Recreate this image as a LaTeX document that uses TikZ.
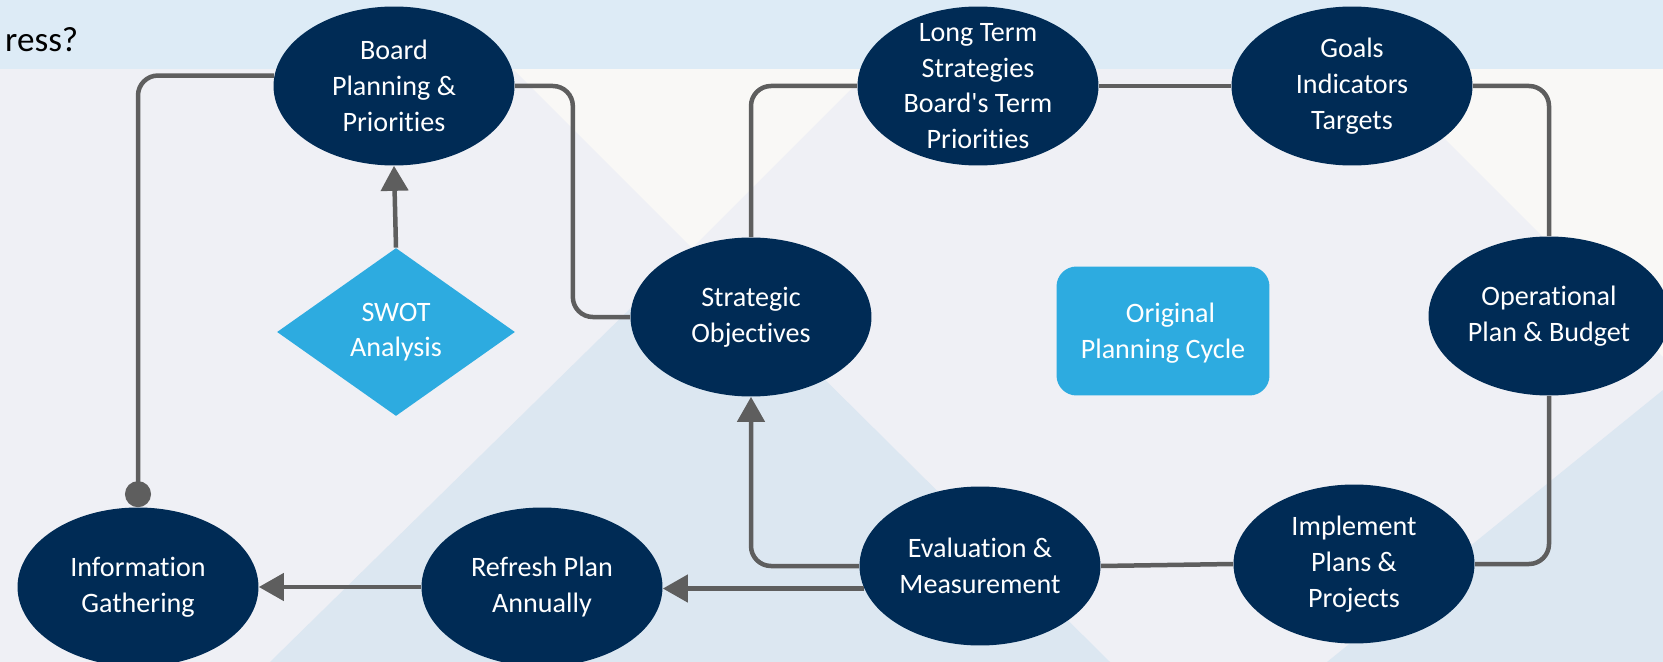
\documentclass[tikz,border=0pt]{standalone}
\usepackage{fontspec}
\setmainfont{Carlito}[Ligatures={NoCommon,NoRare}]
\usepackage{tikz}
\usetikzlibrary{shapes.geometric, arrows.meta}
\usetikzlibrary{backgrounds}
\definecolor{navy}{RGB}{0,43,85}
\definecolor{sky}{RGB}{45,171,224}
\definecolor{wire}{RGB}{94,94,94}
\definecolor{band}{RGB}{221,235,246}
\definecolor{slate}{RGB}{239,240,245}
\definecolor{chalk}{RGB}{249,248,246}
\definecolor{haze}{RGB}{220,231,241}
\newcommand{\stagefont}{\fontsize{16pt}{20.3pt}\selectfont}
\tikzstyle{stage} = [ellipse, fill=navy, text=white, minimum width=4.82cm, minimum height=3.18cm, inner xsep=0pt, inner ysep=-0.4cm, align=center, font=\stagefont]
\tikzstyle{swot} = [diamond, fill=sky, text=white, minimum width=4.76cm, minimum height=3.36cm, inner sep=0pt, align=center, font=\stagefont]
\tikzstyle{plate} = [rectangle, rounded corners=0.4cm, fill=sky, text=white, minimum width=4.26cm, minimum height=2.58cm, align=center, font=\stagefont]
\tikzstyle{link} = [draw=wire, line width=0.09cm, rounded corners=0.4cm]
\tikzstyle{arrow} = [link, -{Triangle[length=0.5cm,width=0.54cm]}]

\begin{document}
\begin{tikzpicture}[x=0.02cm, y=-0.02cm]
  \useasboundingbox (0,0) rectangle (1663,662);
  \begin{pgfonlayer}{background}
    \fill[slate] (0,0) rectangle (1663,662);
    \fill[chalk] (513,69) -- (871,69) -- (692,248) -- cycle;
    \fill[haze] (692,248) -- (1110,662) -- (270,662) -- cycle;
    \fill[chalk] (1375,69) -- (1663,69) -- (1663,357) -- cycle;
    \fill[haze] (1663,390) -- (1663,662) -- (1327,662) -- cycle;
    \fill[band] (0,0) rectangle (1663,69);
  \end{pgfonlayer}
  \node[anchor=base west, font=\fontsize{20pt}{24pt}\selectfont] (title) at (-1,52) {ress?};

  \node[stage] (board) at (394,86) {Board\\Planning \&\\Priorities};
  \node[stage] (long) at (978,86) {Long Term\\Strategies\\Board\textquotesingle s Term\\Priorities};
  \node[stage] (goals) at (1352,86) {Goals\\Indicators\\Targets};
  \node[stage] (strat) at (751,317) {Strategic\\Objectives};
  \node[stage] (oper) at (1549,316) {Operational\\Plan \& Budget};
  \node[stage] (info) at (138,587) {Information\\Gathering};
  \node[stage] (refresh) at (542,587) {Refresh Plan\\Annually};
  \node[stage] (eval) at (980,566) {Evaluation \&\\Measurement};
  \node[stage] (impl) at (1354,564) {Implement\\Plans \&\\Projects};
  \node[swot] (swot) at (396,332) {SWOT\\Analysis};
  \node[plate, text depth=-0.1cm] (orig) at (1163,331) {\hspace{0.3cm}Original\\Planning Cycle};

  \draw[link, {Circle[length=0.52cm]}-] (info.north) |- (board.175);
  \draw[link] (board.east) -- ++(58,0) |- (strat.west);
  \draw[link] (strat.north) |- (long.west);
  \draw[link] (long.east) -- (goals.west);
  \draw[link] (goals.east) -| (oper.north);
  \draw[link] (oper.south) |- (impl.east);
  \draw[link] (impl.west) -- (eval.east);
  \draw[arrow] (eval.west) -| (strat.south);
  \draw[arrow] (eval.191) -- (eval.191 -| refresh.east);
  \draw[arrow] (refresh.west) -- (info.east);
  \draw[arrow] (swot.north) -- (board.south);
\end{tikzpicture}
\end{document}
